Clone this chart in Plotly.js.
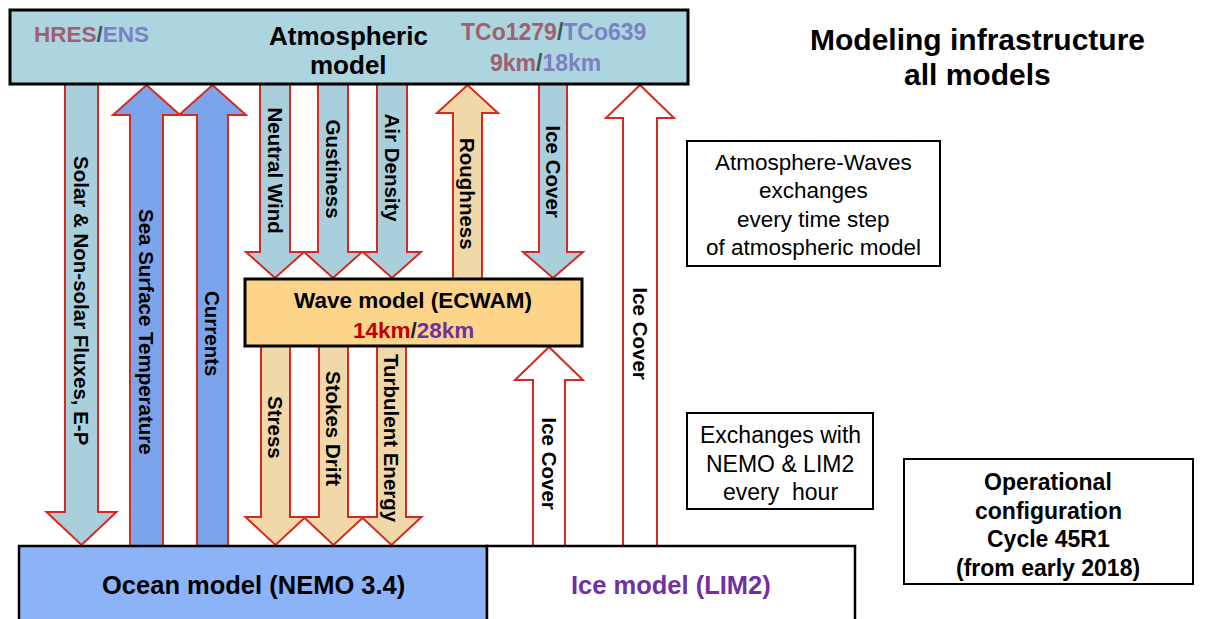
<!DOCTYPE html>
<html><head><meta charset="utf-8">
<script src="https://cdn.plot.ly/plotly-3.0.1.min.js"></script>
<style>html,body{margin:0;padding:0;background:#fff}#chart{width:1206px;height:619px}</style>
</head><body><div id="chart"></div>
<script>
// ---- diagram content ----
const arrowLabels = ["Solar & Non-solar Fluxes, E-P","Sea Surface Temperature","Currents",
  "Neutral Wind","Gustiness","Air Density","Roughness","Ice Cover","Ice Cover","Ice Cover",
  "Stress","Stokes Drift","Turbulent Energy"];
const arrowDirections = ["down","up","up","down","down","down","up","down","up","up","down","down","down"];
const arrowKinds = ["atmos","ocean","ocean","atmos","atmos","atmos","wave","atmos","ice","ice","wave","wave","wave"];

const atmosLines = ["Atmospheric","model"];
const waveName = "Wave model (ECWAM)";
const oceanName = "Ocean model (NEMO 3.4)";
const iceName = "Ice model (LIM2)";
const noteA = ["Atmosphere-Waves","exchanges","every time step","of atmospheric model"];
const noteB = ["Exchanges with","NEMO & LIM2","every  hour"];
const configLines = ["Operational","configuration","Cycle 45R1","(from early 2018)"];
const titleLines = ["Modeling infrastructure","all models"];

// ---- geometry (pixel layout) ----
// [centre x, shaft half width, head half width, start y, head base y, tip y, label y]
const arrowGeom = [
  [81.5,16.5,35,84,512,545,300],
  [146.5,16.5,33.5,546,115,85,332],
  [212.5,15.5,33.5,546,115,85,333],
  [275,15,29,84,252,278,170],
  [333,15,29,84,252,278,169],
  [392,15,29,84,252,278,168],
  [467.5,14.5,30.5,279,113,85,194],
  [553,14,30,84,252,278,171],
  [640,17,34,546,118,85,333],
  [549,16,34,546,380,347,463],
  [275.5,14.5,30,346,517,545,427],
  [333.5,14.5,30,346,517,545,428],
  [391.5,14.5,30,346,517,545,438]
];
const fills = {atmos:"#a9cfdd", ocean:"#7ba4eb", wave:"#f0d8a8", ice:"#ffffff"};
const RED = "#d42a20";
const FONT = "Liberation Sans, Arial, sans-serif";

const shapes = [];
const annotations = [];

arrowGeom.forEach((g,i)=>{
  const [cx,sw,hw,y0,yh,yt,ly] = g;
  const p = `M ${cx-sw},${y0} L ${cx+sw},${y0} L ${cx+sw},${yh} L ${cx+hw},${yh} L ${cx},${yt} L ${cx-hw},${yh} L ${cx-sw},${yh} Z`;
  shapes.push({type:"path", xref:"x", yref:"y", path:p, fillcolor:fills[arrowKinds[i]],
    line:{color:RED, width:2}, layer:"above"});
  annotations.push({x:cx+0.5, y:ly, xref:"x", yref:"y", text:"<b>"+arrowLabels[i]+"</b>", textangle:90,
    showarrow:false, font:{family:FONT, size:20.5, color:"#000"}});
});

function box(x0,y0,x1,y1,fill,w){
  shapes.push({type:"rect", xref:"x", yref:"y", x0:x0,y0:y0,x1:x1,y1:y1, fillcolor:fill,
    line:{color:"#000", width:w}, layer:"above"});
}
box(10,10,688,84,"#acd5e0",3);
box(245,279,582,346,"#fcd48a",3);
box(19,546,487,622,"#8cb3f7",2.5);
box(487,546,855,622,"#ffffff",2.5);
box(687,141,940,266,"#ffffff",2);
box(687,413,873,509,"#ffffff",2);
box(904,459,1193,584,"#ffffff",2);

function ann(x,y,text,size,color){
  annotations.push({x:x,y:y,xref:"x",yref:"y",text:text,showarrow:false,borderpad:0,
    font:{family:FONT,size:size,color:color||"#000"}});
}
function lines(arr,x,y0,dy,size,bold,color){
  arr.forEach((t,i)=>ann(x,y0+i*dy,bold?"<b>"+t+"</b>":t,size,color));
}
const MAUVE="#a0606f", LAV="#7d80c2";
ann(91,34,`<b><span style="color:${MAUVE}">HRES</span><span style="color:#3a5a55">/</span><span style="color:${LAV}">ENS</span></b>`,22.5);
lines(atmosLines,348,36,29,26,true);
ann(553,32,`<b><span style="color:${MAUVE}">TCo1279</span><span style="color:#3a5a55">/</span><span style="color:${LAV}">TCo639</span></b>`,23);
ann(545,63,`<b><span style="color:${MAUVE}">9km</span><span style="color:#3a5a55">/</span><span style="color:${LAV}">18km</span></b>`,23);
lines(titleLines,977,39,35,30,true);
ann(413,300,"<b>"+waveName+"</b>",22.5);
ann(413,330,`<b><span style="color:#c00000">14km</span><span style="color:#222">/</span><span style="color:#7030a0">28km</span></b>`,22.5);
ann(253,585,"<b>"+oceanName+"</b>",25.5);
ann(671,585,"<b>"+iceName+"</b>",25.5,"#7030a0");
lines(noteA,813,162,28.5,22.5,false);
lines(noteB,780,435,28.5,23,false);
lines(configLines,1048,482,28.5,23,true);

const layout = {
  width:1206, height:619, margin:{l:0,r:0,t:0,b:0},
  paper_bgcolor:"#ffffff", plot_bgcolor:"#ffffff",
  xaxis:{range:[0,1206], visible:false, fixedrange:true},
  yaxis:{range:[619,0], visible:false, fixedrange:true},
  shapes:shapes, annotations:annotations, showlegend:false
};
Plotly.newPlot("chart", [{x:[],y:[],type:"scatter"}], layout, {staticPlot:true, displayModeBar:false});
</script></body></html>
